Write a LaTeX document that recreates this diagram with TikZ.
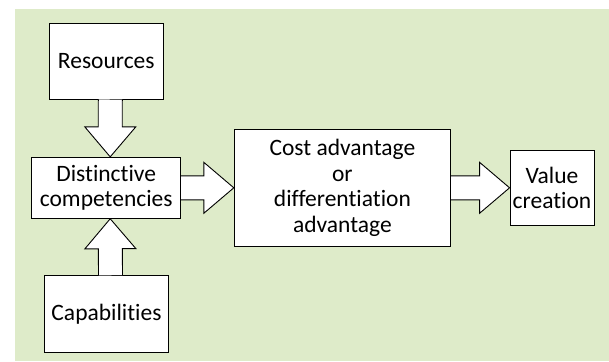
\documentclass[tikz,border=0pt]{standalone}
\usepackage{xcolor}
\definecolor{colorbg}{RGB}{222,235,201}
\usepackage{fontspec}
\setmainfont[Ligatures=NoCommon]{Carlito}
\usepackage{tikz}
\usetikzlibrary{calc}

% big hollow arrow from #1 (tail) to #2 (tip)
\newcommand{\fatarrow}[2]{%
  \coordinate (fa-base) at ($(#2)!30pt!(#1)$);
  \draw[fatarrow] ($(#1)!12pt!90:(#2)$) -- ($(fa-base)!12pt!90:(#2)$)
    -- ($(fa-base)!25.5pt!90:(#2)$) -- (#2) -- ($(fa-base)!25.5pt!-90:(#2)$)
    -- ($(fa-base)!12pt!-90:(#2)$) -- ($(#1)!12pt!-90:(#2)$);}

\begin{document}
\begin{tikzpicture}[x=1pt,y=-1pt,
  box/.style={draw,line width=0.9pt,fill=white,align=center,inner sep=0pt,
    font=\fontsize{23.5}{25.5}\selectfont},
  fatarrow/.style={draw,line width=0.9pt,fill=white,line join=miter}]

% Background
\useasboundingbox (0,0) rectangle (609,361);
\fill[white] (0,0) rectangle (609,361);
\fill[colorbg] (15,9) rectangle (609,361);

% Boxes
\node[box,minimum width=114pt,minimum height=75.7pt] (res) at (106.3,61.2) {Resources};
\node[box,minimum width=148.8pt,minimum height=61pt] (dist) at (106.2,187.8) {Distinctive\\competencies};
\node[box,minimum width=124.4pt,minimum height=76.6pt] (cap) at (106.5,314) {Capabilities};
\node[box,minimum width=216.3pt,minimum height=116.4pt] (cost) at (342.4,187.8) {Cost advantage\\or\\differentiation\\advantage};
\node[box,minimum width=84pt,minimum height=75pt] (val) at (552,187.8) {Value\\creation};

% Arrows
\fatarrow{[xshift=4pt]res.south}{[xshift=4pt]dist.north}
\fatarrow{[xshift=4pt]cap.north}{[xshift=4pt]dist.south}
\fatarrow{dist.east}{cost.west}
\fatarrow{cost.east}{val.west}
\end{tikzpicture}
\end{document}
